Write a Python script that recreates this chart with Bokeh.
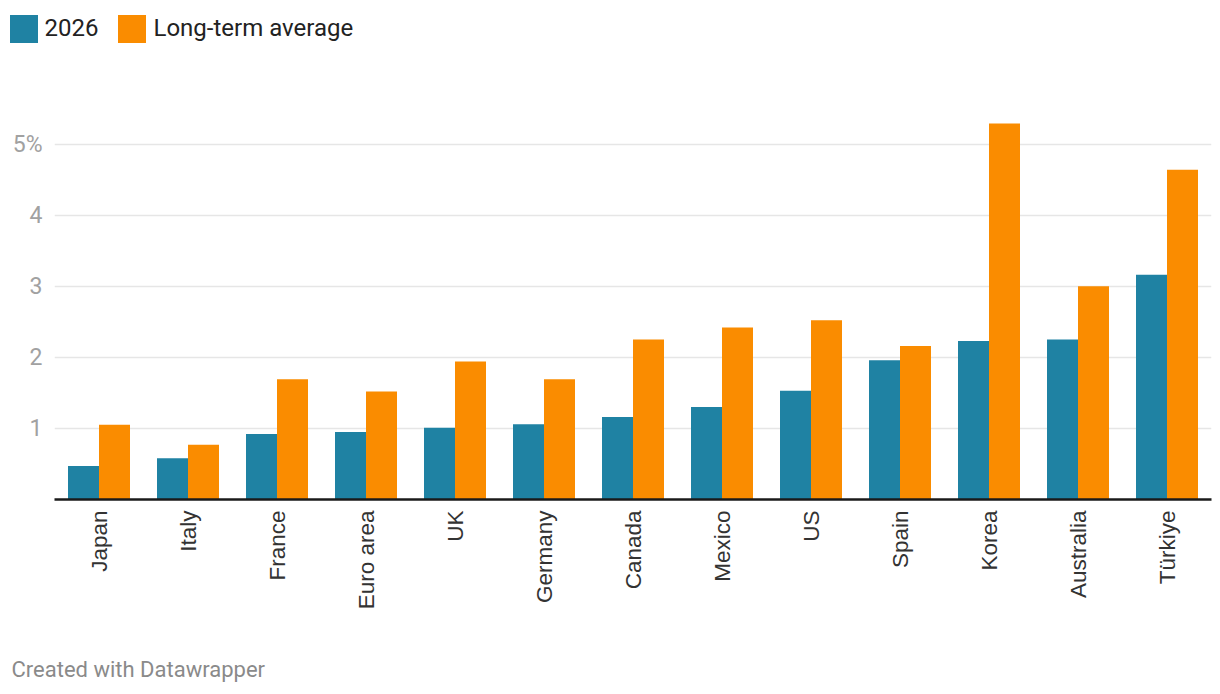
from bokeh.plotting import figure
from bokeh.models import FactorRange, Range1d, FixedTicker, Legend, LegendItem, Label, ColumnDataSource
from bokeh.transform import dodge
from bokeh.embed import file_html
from bokeh.resources import INLINE
import math

countries = ["Japan", "Italy", "France", "Euro area", "UK", "Germany", "Canada",
             "Mexico", "US", "Spain", "Korea", "Australia", "Türkiye"]
y2026 = [0.47, 0.58, 0.92, 0.95, 1.01, 1.06, 1.16, 1.30, 1.53, 1.96, 2.23, 2.25, 3.16]
long_term = [1.05, 0.77, 1.69, 1.52, 1.94, 1.69, 2.25, 2.42, 2.52, 2.16, 5.29, 3.00, 4.64]
series_names = ["2026", "Long-term average"]
y_ticks = [1, 2, 3, 4, 5]
y_tick_labels = {5: "5%"}
footer_text = "Created with Datawrapper"

TEAL = "#1f82a3"
ORANGE = "#fa8c00"
W = 1220
bw = 31 / 89

src = ColumnDataSource(dict(country=countries, y2026=y2026, lt=long_term))


def strip(h):
    # a bare strip whose frame fills the whole figure; its y range lies far from the data,
    # so the series' glyphs exist (for the legend swatches) but are never visible here
    f = figure(width=W, height=h, x_range=FactorRange(*countries, range_padding=0),
               y_range=Range1d(100, 101), x_axis_type=None, y_axis_type=None, min_border=0,
               output_backend="svg", toolbar_location=None)
    f.outline_line_color = None
    f.grid.visible = False
    return f


# ---- legend strip ----
leg = strip(60)
lr1 = leg.vbar(x="country", top="y2026", width=0, source=src,
               fill_color=TEAL, line_color=None)
lr2 = leg.vbar(x="country", top="lt", width=0, source=src,
               fill_color=ORANGE, line_color=None)
legend = Legend(
    items=[LegendItem(label=series_names[0], renderers=[lr1]),
           LegendItem(label=series_names[1], renderers=[lr2])],
    location=(5.5, 14.5),
    orientation="horizontal",
    glyph_width=35, glyph_height=35,
    label_standoff=4, spacing=16,
    padding=0, margin=0,
    border_line_color=None, background_fill_alpha=0,
    label_text_font="Roboto", label_text_font_size="24px", label_text_color="#222222",
)
leg.add_layout(legend, "center")

# ---- main chart ----
p = figure(
    x_range=FactorRange(*countries, range_padding=0),
    y_range=Range1d(0, 5.5),
    width=W, height=594,
    frame_width=1157, frame_height=391,
    min_border_left=54, min_border_right=9, min_border_top=48, min_border_bottom=155,
    output_backend="svg", toolbar_location=None,
)
p.outline_line_color = None

p.vbar(x=dodge("country", -bw / 2, range=p.x_range), top="y2026", width=bw,
       source=src, fill_color=TEAL, line_color=None)
p.vbar(x=dodge("country", bw / 2, range=p.x_range), top="lt", width=bw,
       source=src, fill_color=ORANGE, line_color=None)

p.yaxis.ticker = FixedTicker(ticks=y_ticks)
p.yaxis.major_label_overrides = y_tick_labels
p.yaxis.axis_line_color = None
p.yaxis.major_tick_line_color = None
p.yaxis.minor_tick_line_color = None
p.yaxis.major_tick_out = 0
p.yaxis.major_tick_in = 0
p.yaxis.major_label_standoff = 12
p.yaxis.major_label_text_font = "Roboto"
p.yaxis.major_label_text_font_size = "23px"
p.yaxis.major_label_text_color = "#a1a1a1"

p.ygrid.ticker = FixedTicker(ticks=y_ticks)
p.ygrid.grid_line_color = "#e6e6e6"
p.ygrid.grid_line_width = 1.5
p.xgrid.grid_line_color = None

p.xaxis.axis_line_color = "#1a1a1a"
p.xaxis.axis_line_width = 2.5
p.xaxis.major_tick_line_color = None
p.xaxis.minor_tick_line_color = None
p.xaxis.major_tick_out = 0
p.xaxis.major_tick_in = 0
p.xaxis.major_label_orientation = math.pi / 2
p.xaxis.major_label_standoff = 11
p.xaxis.major_label_text_font = "Liberation Sans"
p.xaxis.major_label_text_font_size = "22.5px"
p.xaxis.major_label_text_color = "#333333"

# ---- footer strip ----
foot = strip(40)
foot.add_layout(Label(x=11, y=25, x_units="screen", y_units="screen", text=footer_text,
                      text_font="Roboto", text_font_size="22px", text_color="#8a8a8a",
                      text_baseline="alphabetic"))

open("out.html", "w").write(file_html([leg, p, foot], INLINE))
